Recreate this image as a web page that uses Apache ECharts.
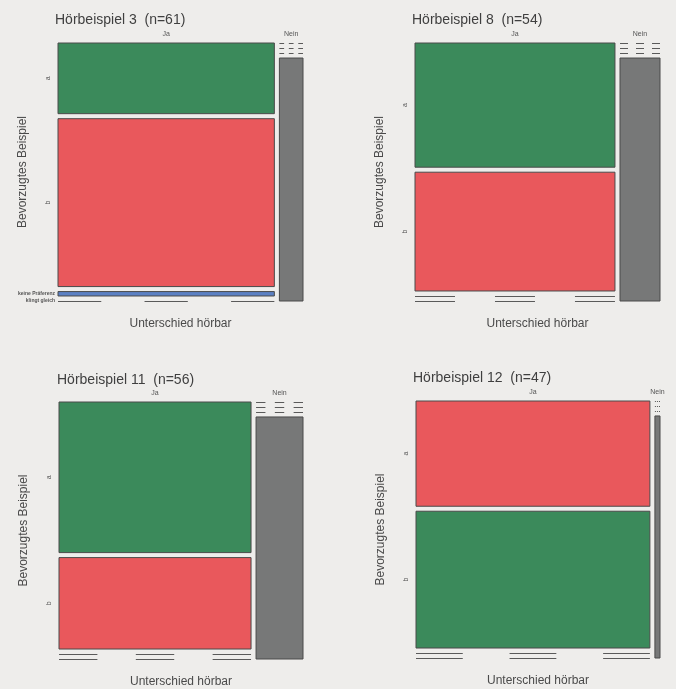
<!DOCTYPE html>
<html>
<head>
<meta charset="utf-8">
<script src="https://cdn.jsdelivr.net/npm/echarts@6/dist/echarts.min.js"></script>
<style>
html,body{margin:0;padding:0;background:#eeedeb;}
#chart{width:676px;height:689px;}
</style>
</head>
<body>
<div id="chart"></div>
<script>
// ---- data ----
const panelNames = ['Hörbeispiel 3', 'Hörbeispiel 8', 'Hörbeispiel 11', 'Hörbeispiel 12'];
const panelN = [61, 54, 56, 47];
const audibleLevels = ['Ja', 'Nein'];
const preferenceLevels = ['a', 'b', 'keine Präferenz', 'klingt gleich'];
// counts per preference level (a, b, keine Präferenz, klingt gleich)
const jaCounts3 = [16, 38, 1, 0];
const neinCounts3 = [0, 0, 0, 6];
const jaCounts8 = [23, 22, 0, 0];
const neinCounts8 = [0, 0, 0, 9];
const jaCounts11 = [28, 17, 0, 0];
const neinCounts11 = [0, 0, 0, 11];
const jaCounts12 = [20, 26, 0, 0];
const neinCounts12 = [0, 0, 0, 1];
// which colour each preference level gets in each panel
const colorKeys3 = ['green', 'red', 'blue', 'gray'];
const colorKeys8 = ['green', 'red', 'blue', 'gray'];
const colorKeys11 = ['green', 'red', 'blue', 'gray'];
const colorKeys12 = ['red', 'green', 'blue', 'gray'];
// which row labels are printed on the left
const rowLabels3 = [true, true, true, true];
const rowLabels8 = [true, true, false, false];
const rowLabels11 = [true, true, false, false];
const rowLabels12 = [true, true, false, false];

const jaAll = [jaCounts3, jaCounts8, jaCounts11, jaCounts12];
const neinAll = [neinCounts3, neinCounts8, neinCounts11, neinCounts12];
const colorKeyAll = [colorKeys3, colorKeys8, colorKeys11, colorKeys12];
const rowLabelAll = [rowLabels3, rowLabels8, rowLabels11, rowLabels12];

// ---- style ----
const palette = { green: '#3b8a5b', red: '#e9585c', blue: '#5b80c3', gray: '#777878' };
const gapX = 0.021, gapY = 0.0206;
const grids = [
  { left: 58, top: 43, width: 245, height: 258 },
  { left: 415, top: 43, width: 245, height: 258 },
  { left: 59, top: 402, width: 244, height: 258 },
  { left: 416, top: 401, width: 244, height: 257 }
];
const titlePos = [[50, 8], [407, 8], [52, 368], [408, 366]];

function buildCells(p) {
  const cols = [jaAll[p], neinAll[p]];
  const colTot = cols.map(c => c.reduce((s, v) => s + v, 0));
  const total = colTot[0] + colTot[1];
  const items = [];
  let x = 0;
  cols.forEach((counts, c) => {
    const w = colTot[c] / total;
    let y = 0;
    counts.forEach((v, r) => {
      const h = v / colTot[c];
      items.push([x, x + w, y, y + h, r, c, v]);
      y += h + gapY;
    });
    x += w + gapX;
  });
  return items;
}

function makeRender(p) {
  return function (params, api) {
    const x0 = api.value(0), x1 = api.value(1), y0 = api.value(2), y1 = api.value(3);
    const r = api.value(4), c = api.value(5), v = api.value(6);
    const a = api.coord([x0, y0]);
    const b = api.coord([x1, y1]);
    const children = [];
    const w = b[0] - a[0];
    if (v > 0) {
      children.push({
        type: 'rect',
        shape: { x: a[0], y: a[1], width: w, height: b[1] - a[1] },
        style: { fill: palette[colorKeyAll[p][r]], stroke: '#4a4a4a', lineWidth: 1 }
      });
    } else {
      const yy = Math.round(a[1]) + 0.5;
      [[0, 0.2], [0.4, 0.6], [0.8, 1]].forEach(s => {
        children.push({
          type: 'line',
          shape: { x1: a[0] + w * s[0], y1: yy, x2: a[0] + w * s[1], y2: yy },
          style: { stroke: '#5a5a5a', lineWidth: 1 }
        });
      });
    }
    if (r === 0) {
      children.push({
        type: 'text',
        x: a[0] + w / 2, y: a[1] - 9,
        style: { text: audibleLevels[c], fill: '#555', font: '7px "Liberation Sans", Arial', align: 'center', verticalAlign: 'middle' }
      });
    }
    if (c === 0 && rowLabelAll[p][r]) {
      const cy = (a[1] + b[1]) / 2;
      if (r < 2) {
        children.push({
          type: 'text',
          x: a[0] - 10, y: cy, rotation: Math.PI / 2,
          style: { text: preferenceLevels[r], fill: '#555', font: '7px "Liberation Sans", Arial', align: 'center', verticalAlign: 'middle' }
        });
      } else {
        children.push({
          type: 'text',
          x: a[0] - 3, y: cy,
          style: { text: preferenceLevels[r], fill: '#555', font: 'bold 5px "Liberation Sans", Arial', align: 'right', verticalAlign: 'middle' }
        });
      }
    }
    return { type: 'group', children: children };
  };
}

const option = {
  backgroundColor: '#eeedeb',
  animation: false,
  title: panelNames.map((t, i) => ({
    text: t + '  (n=' + panelN[i] + ')',
    left: titlePos[i][0], top: titlePos[i][1],
    textStyle: { fontSize: 14, fontWeight: 'normal', color: '#3f3f3f', fontFamily: '"Liberation Sans", Arial' }
  })),
  grid: grids.map(g => Object.assign({ containLabel: false }, g)),
  xAxis: grids.map((g, i) => ({
    type: 'value', gridIndex: i, min: 0, max: 1 + gapX,
    name: 'Unterschied hörbar', nameLocation: 'middle', nameGap: 17,
    nameTextStyle: { fontSize: 12, color: '#4a4a4a', fontFamily: '"Liberation Sans", Arial' },
    axisLine: { show: false }, axisTick: { show: false }, axisLabel: { show: false }, splitLine: { show: false }
  })),
  yAxis: grids.map((g, i) => ({
    type: 'value', gridIndex: i, min: 0, max: 1 + 3 * gapY, inverse: true,
    name: 'Bevorzugtes Beispiel', nameLocation: 'middle', nameGap: 29,
    nameTextStyle: { fontSize: 12, color: '#4a4a4a', fontFamily: '"Liberation Sans", Arial' },
    axisLine: { show: false }, axisTick: { show: false }, axisLabel: { show: false }, splitLine: { show: false }
  })),
  series: panelNames.map((t, i) => ({
    type: 'custom', xAxisIndex: i, yAxisIndex: i,
    renderItem: makeRender(i),
    data: buildCells(i),
    clip: false,
    silent: true
  }))
};

const chart = echarts.init(document.getElementById('chart'), null, { renderer: 'canvas' });
chart.setOption(option);
</script>
</body>
</html>
